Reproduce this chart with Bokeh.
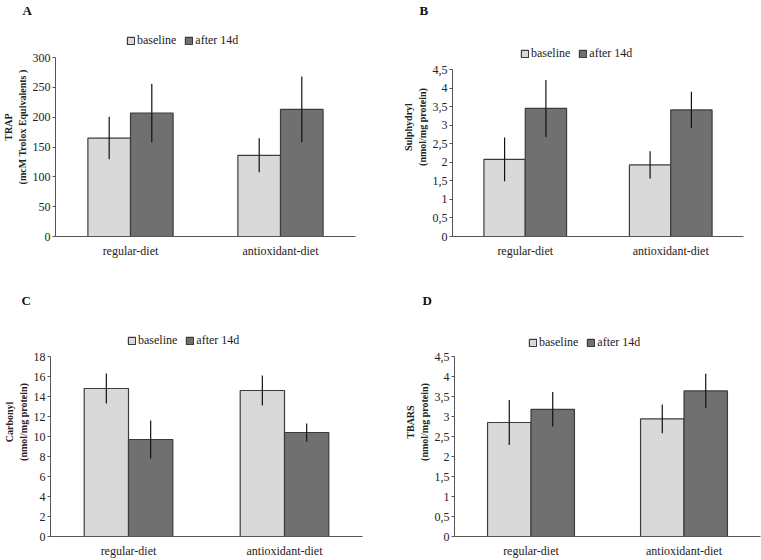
from bokeh.plotting import figure
from bokeh.models import ColumnDataSource, FactorRange, Range1d, FixedTicker, Legend, LegendItem
from bokeh.transform import dodge
from bokeh.layouts import row, column
from bokeh.embed import file_html
from bokeh.resources import INLINE

# ---------------- data ----------------
categories = ["regular-diet", "antioxidant-diet"]
series_names = ["baseline", "after 14d"]

trap_baseline = [165, 136]
trap_baseline_err = [35.5, 28.5]
trap_after = [207, 213]
trap_after_err = [49, 55]
trap_ticks = [0, 50, 100, 150, 200, 250, 300]

sulph_baseline = [2.08, 1.93]
sulph_baseline_err = [0.59, 0.37]
sulph_after = [3.45, 3.41]
sulph_after_err = [0.77, 0.49]

carb_baseline = [14.8, 14.6]
carb_baseline_err = [1.5, 1.5]
carb_after = [9.7, 10.4]
carb_after_err = [1.9, 0.9]
carb_ticks = [0, 2, 4, 6, 8, 10, 12, 14, 16, 18]

tbars_baseline = [2.85, 2.94]
tbars_baseline_err = [0.56, 0.36]
tbars_after = [3.18, 3.64]
tbars_after_err = [0.43, 0.43]

half_ticks = [0, 0.5, 1, 1.5, 2, 2.5, 3, 3.5, 4, 4.5]
half_tick_labels = ["0", "0,5", "1", "1,5", "2", "2,5", "3", "3,5", "4", "4,5"]

FONT = "Liberation Serif"
C_BASE = "#d9d9d9"
C_AFTER = "#707070"
C_EDGE = "#3c3c3c"


def panel(letter, ylabel, base, base_err, after, after_err, ticks, tick_labels,
          width, height, bl, br, bt, bb, top_tick_px, letter_offset, legend_xy):
    # frame spans from bt to height-bb; the top tick value sits top_tick_px below the canvas top
    frame_h = height - bt - bb
    top_val = ticks[-1]
    y_end = top_val * frame_h / (height - bb - top_tick_px)
    p = figure(x_range=FactorRange(*categories), y_range=Range1d(0, y_end),
               width=width, height=height, output_backend="svg", toolbar_location=None,
               min_border_left=bl, min_border_right=br, min_border_top=bt, min_border_bottom=bb)
    src = ColumnDataSource(dict(
        cat=categories, base=base, after=after,
        base_lo=[m - e for m, e in zip(base, base_err)],
        base_hi=[m + e for m, e in zip(base, base_err)],
        after_lo=[m - e for m, e in zip(after, after_err)],
        after_hi=[m + e for m, e in zip(after, after_err)],
    ))
    r1 = p.vbar(x=dodge("cat", -0.142, range=p.x_range), top="base", width=0.284, source=src,
                fill_color=C_BASE, line_color=C_EDGE, line_width=1.2)
    r2 = p.vbar(x=dodge("cat", 0.142, range=p.x_range), top="after", width=0.284, source=src,
                fill_color=C_AFTER, line_color=C_EDGE, line_width=1.2)
    p.segment(x0=dodge("cat", -0.142, range=p.x_range), x1=dodge("cat", -0.142, range=p.x_range),
              y0="base_lo", y1="base_hi", source=src, line_color="#111111", line_width=1.2)
    p.segment(x0=dodge("cat", 0.142, range=p.x_range), x1=dodge("cat", 0.142, range=p.x_range),
              y0="after_lo", y1="after_hi", source=src, line_color="#111111", line_width=1.2)

    p.grid.visible = False
    p.outline_line_color = None
    p.background_fill_color = "white"
    p.border_fill_color = "white"

    p.title.text = letter
    p.title.align = "left"
    p.title.offset = letter_offset
    p.title.standoff = 0
    p.title.text_font = FONT
    p.title.text_font_style = "bold"
    p.title.text_font_size = "13px"
    p.title.text_color = "#111111"

    ya = p.yaxis[0]
    ya.ticker = FixedTicker(ticks=ticks)
    ya.bounds = (0, top_val)
    ya.major_label_overrides = {t: l for t, l in zip(ticks, tick_labels)}
    ya.minor_tick_line_color = None
    ya.major_tick_in = 0
    ya.major_tick_out = 3
    ya.major_label_standoff = 2
    ya.major_label_text_font = FONT
    ya.major_label_text_font_size = "12px"
    ya.major_label_text_color = "#222222"
    ya.axis_line_color = "#555555"
    ya.major_tick_line_color = "#555555"
    ya.axis_label = ylabel
    ya.axis_label_text_font = FONT
    ya.axis_label_text_font_style = "bold"
    ya.axis_label_text_font_size = "10px"
    ya.axis_label_standoff = 2
    ya.axis_label_text_color = "#222222"

    xa = p.xaxis[0]
    xa.major_tick_line_color = None
    xa.minor_tick_line_color = None
    xa.major_label_text_font = FONT
    xa.major_label_text_font_size = "12px"
    xa.major_label_text_color = "#222222"
    xa.major_label_standoff = 1
    xa.axis_line_color = "#555555"

    legend = Legend(items=[LegendItem(label=series_names[0], renderers=[r1]),
                           LegendItem(label=series_names[1], renderers=[r2])],
                    orientation="horizontal", location=legend_xy,
                    glyph_width=9, glyph_height=9, label_standoff=2, spacing=8,
                    padding=0, margin=0, border_line_color=None, background_fill_alpha=0,
                    label_text_font=FONT, label_text_font_size="12px", label_text_color="#222222",
                    label_height=12)
    p.add_layout(legend, "center")
    return p


pA = panel("A", "TRAP\n(mcM Trolox Equivalents )", trap_baseline, trap_baseline_err,
           trap_after, trap_after_err, trap_ticks, [str(t) for t in trap_ticks],
           380, 280, 54, 25, 17, 44, 57, -33, (71, 188))
pB = panel("B", "Sulphydryl\n(nmol/mg protein)", sulph_baseline, sulph_baseline_err,
           sulph_after, sulph_after_err, half_ticks, half_tick_labels,
           381, 280, 72, 18, 17, 44, 69, -33, (68, 175))
pC = panel("C", "Carbonyl\n(nmol/mg protein)", carb_baseline, carb_baseline_err,
           carb_after, carb_after_err, carb_ticks, [str(t) for t in carb_ticks],
           380, 280, 50, 18, 27, 24, 76, -29, (77, 188))
pD = panel("D", "TBARS\n(nmol/mg protein)", tbars_baseline, tbars_baseline_err,
           tbars_after, tbars_after_err, half_ticks, half_tick_labels,
           381, 280, 74, 1, 27, 24, 76, -32, (74, 186))

layout = column(row(pA, pB, spacing=0), row(pC, pD, spacing=0), spacing=0)
open("out.html", "w").write(file_html(layout, INLINE))
